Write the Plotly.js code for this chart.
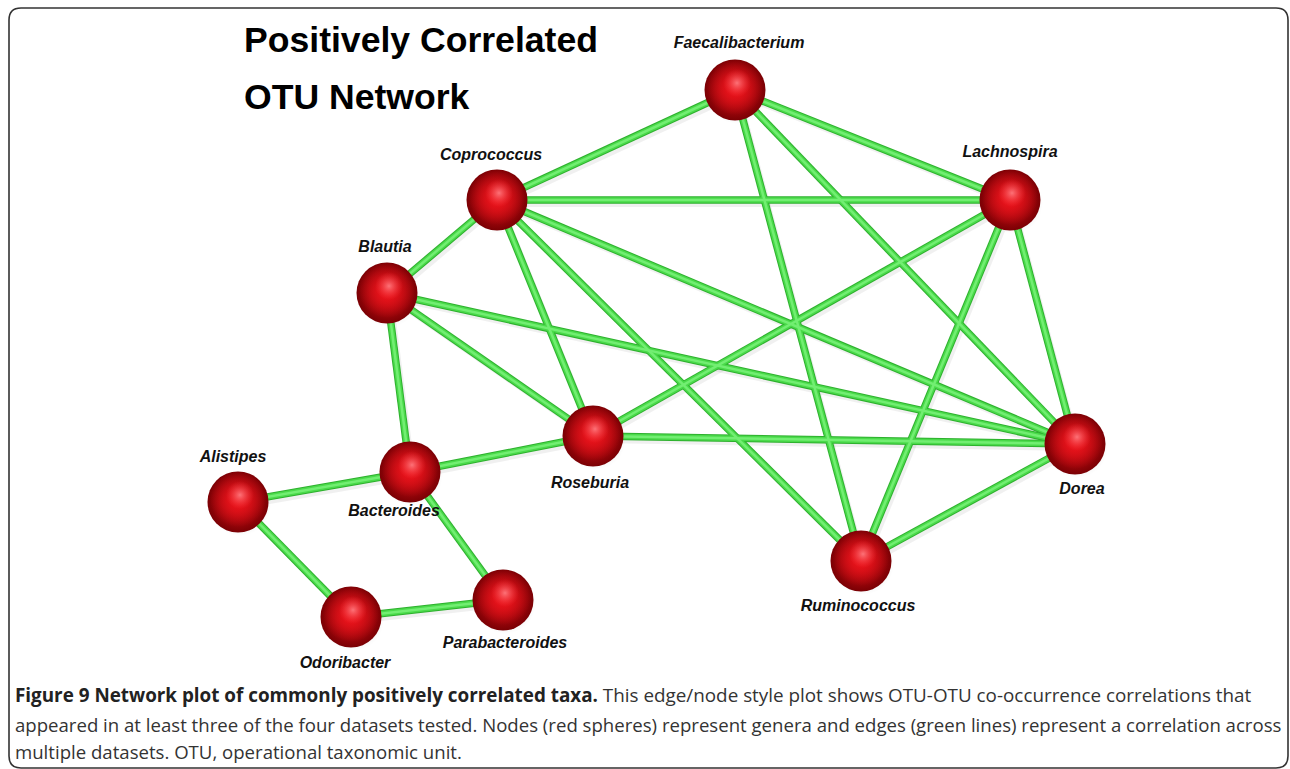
<!DOCTYPE html>
<html>
<head>
<meta charset="utf-8">
<script src="https://cdn.plot.ly/plotly-3.0.1.min.js"></script>
<style>html,body{margin:0;padding:0;background:#fff;}#chart{width:1290px;height:769px;}</style>
</head>
<body>
<div id="chart"></div>
<script>
// Node names and positions in the drawing (pixel-like layout units)
const nodeNames = ["Faecalibacterium","Coprococcus","Lachnospira","Blautia","Roseburia","Dorea","Alistipes","Bacteroides","Ruminococcus","Odoribacter","Parabacteroides"];
const nodeX = [735, 497, 1010, 387, 593, 1075, 238, 410, 861, 351, 503];
const nodeY = [90, 200, 200, 293, 436, 444, 502, 472, 561, 617, 600];
const labelX = [739, 491, 1010, 385, 590, 1082, 233, 394, 858, 345, 505];
const labelY = [44, 156, 153, 248, 484, 490, 458, 512, 607, 664, 644];
// Edges (positive correlations) as pairs of node names
const edgeFrom = ["Faecalibacterium","Faecalibacterium","Faecalibacterium","Faecalibacterium","Coprococcus","Coprococcus","Coprococcus","Coprococcus","Coprococcus","Blautia","Blautia","Blautia","Lachnospira","Lachnospira","Lachnospira","Roseburia","Roseburia","Dorea","Bacteroides","Bacteroides","Alistipes","Odoribacter"];
const edgeTo   = ["Coprococcus","Lachnospira","Dorea","Ruminococcus","Lachnospira","Blautia","Roseburia","Dorea","Ruminococcus","Bacteroides","Roseburia","Dorea","Roseburia","Ruminococcus","Dorea","Dorea","Bacteroides","Ruminococcus","Alistipes","Parabacteroides","Odoribacter","Parabacteroides"];
const titleLines = ["Positively Correlated", "OTU Network"];
const captionBold = "Figure 9 Network plot of commonly positively correlated taxa.";
const captionLines = [
  " This edge/node style plot shows OTU-OTU co-occurrence correlations that",
  "appeared in at least three of the four datasets tested. Nodes (red spheres) represent genera and edges (green lines) represent a correlation across",
  "multiple datasets. OTU, operational taxonomic unit."
];

const idx = {};
nodeNames.forEach((n, i) => idx[n] = i);
const ex = [], ey = [], sx = [], sy = [];
edgeFrom.forEach((f, k) => {
  const a = idx[f], b = idx[edgeTo[k]];
  ex.push(nodeX[a], nodeX[b], null);
  ey.push(nodeY[a], nodeY[b], null);
  sx.push(nodeX[a] + 3, nodeX[b] + 3, null);
  sy.push(nodeY[a] + 4, nodeY[b] + 4, null);
});

const traces = [
  {x: sx, y: sy, mode: 'lines', line: {color: 'rgba(0,0,0,0.06)', width: 6}, hoverinfo: 'skip'},
  {x: ex, y: ey, mode: 'lines', line: {color: '#2eb02e', width: 7.5}, hoverinfo: 'skip'},
  {x: ex, y: ey, mode: 'lines', line: {color: '#4ada4a', width: 5.5}, hoverinfo: 'skip'},
  {x: ex, y: ey, mode: 'lines', line: {color: '#72ee72', width: 2.5}, hoverinfo: 'skip'},
  {x: nodeX.map(v => v + 2), y: nodeY.map(v => v + 3), mode: 'markers', hoverinfo: 'skip',
   marker: {size: 62, color: 'rgba(0,0,0,0)', gradient: {type: 'radial', color: 'rgba(0,0,0,0.18)'}, line: {width: 0}}},
  {x: nodeX, y: nodeY, mode: 'markers', text: nodeNames, hoverinfo: 'text',
   marker: {size: 61, color: '#7a0004', gradient: {type: 'radial', color: '#e8121a'}, line: {width: 0}}},
  {x: nodeX.map(v => v), y: nodeY.map(v => v - 3), mode: 'markers', hoverinfo: 'skip',
   marker: {size: 56, color: 'rgba(232,18,26,0)', gradient: {type: 'radial', color: 'rgba(236,20,28,1)'}, line: {width: 0}}},
  {x: nodeX.map(v => v + 2), y: nodeY.map(v => v - 7), mode: 'markers', hoverinfo: 'skip',
   marker: {size: 28, color: 'rgba(245,60,65,0)', gradient: {type: 'radial', color: 'rgba(255,125,130,0.9)'}, line: {width: 0}}},
  {x: labelX, y: labelY, mode: 'text', text: nodeNames.map(n => '<b><i>' + n + '</i></b>'), hoverinfo: 'skip',
   textposition: 'middle center', textfont: {family: 'Liberation Sans, Arial, sans-serif', size: 16, color: '#111'}}
];

const annotations = [];
titleLines.forEach((t, i) => annotations.push({
  x: 242, y: [53, 110][i], xref: 'x', yref: 'y', text: '<b>' + t + '</b>', showarrow: false,
  xanchor: 'left', yanchor: 'bottom', yshift: -9,
  font: {family: 'Liberation Sans, Arial, sans-serif', size: 35.6, color: '#000'}
}));
const capY = [695, 724, 751];
const capFont1 = {family: 'Open Sans, Noto Sans, sans-serif', size: 18.85, color: '#333'};
const capFont = {family: 'Open Sans, Noto Sans, sans-serif', size: 18.6, color: '#333'};
annotations.push({x: 13, y: capY[0], xref: 'x', yref: 'y', showarrow: false, xanchor: 'left', yanchor: 'middle',
  text: '<b><span style="color:#222">' + captionBold + '</span></b>' + captionLines[0], font: capFont1});
annotations.push({x: 13, y: capY[1], xref: 'x', yref: 'y', showarrow: false, xanchor: 'left', yanchor: 'middle',
  text: captionLines[1], font: capFont});
annotations.push({x: 13, y: capY[2], xref: 'x', yref: 'y', showarrow: false, xanchor: 'left', yanchor: 'middle',
  text: captionLines[2], font: capFont});

const L = 9, T = 8, R = 1288, B = 768, r = 12;
const framePath = `M ${L + r} ${T} L ${R - r} ${T} Q ${R} ${T} ${R} ${T + r} L ${R} ${B - r} Q ${R} ${B} ${R - r} ${B} L ${L + r} ${B} Q ${L} ${B} ${L} ${B - r} L ${L} ${T + r} Q ${L} ${T} ${L + r} ${T} Z`;

const layout = {
  width: 1290, height: 769,
  margin: {l: 0, r: 0, t: 0, b: 0},
  paper_bgcolor: '#fff', plot_bgcolor: '#fff',
  showlegend: false,
  xaxis: {range: [0, 1290], visible: false, fixedrange: true},
  yaxis: {range: [769, 0], visible: false, fixedrange: true},
  shapes: [{type: 'path', path: framePath, xref: 'x', yref: 'y', line: {color: '#333', width: 1.6}, fillcolor: 'rgba(0,0,0,0)', layer: 'below'}],
  annotations: annotations
};

Plotly.newPlot('chart', traces, layout, {displayModeBar: false, staticPlot: true});
</script>
</body>
</html>
